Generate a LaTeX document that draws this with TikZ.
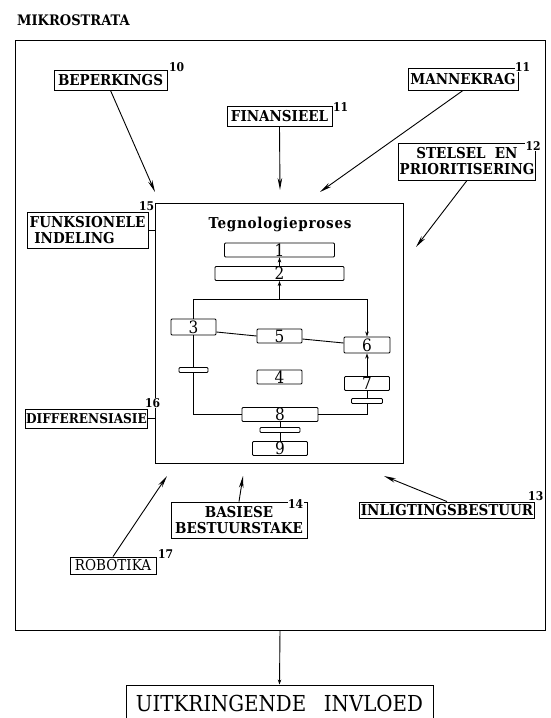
\documentclass[tikz,border=0pt]{standalone}
\usepackage{fontspec}
\setmainfont{DejaVu Serif Condensed}
\usetikzlibrary{arrows.meta,positioning,calc}

\begin{document}
\begin{tikzpicture}[x=1pt,y=-1pt,
    lyn/.style={line width=0.9pt},
    pyl/.style={line width=0.9pt,-{Stealth[length=12pt,width=4.5pt]}},
    klein/.style={line width=0.9pt,-{Stealth[length=5pt,width=3.5pt]}},
    etiket/.style={draw,line width=0.9pt,inner sep=1pt,font=\bfseries\fontsize{15}{16}\selectfont},
    stap/.style={draw,line width=0.9pt,rounded corners=1pt,inner sep=0pt,minimum height=14pt,font=\fontsize{17}{17}\selectfont},
    balk/.style={draw,line width=0.9pt,rounded corners=1pt,inner sep=0pt,minimum height=5pt},
    nommer/.style={anchor=south west,inner sep=0.5pt,fill=white,font=\bfseries\fontsize{12}{12}\selectfont}]

  \useasboundingbox (0,0) rectangle (550,718);

  \node[anchor=west,inner sep=0pt,font=\bfseries\fontsize{14.5}{15}\selectfont] (titel) at (17,20) {MIKROSTRATA};

  % raam en tegnologieproses
  \node[draw,line width=1pt,minimum width=530pt,minimum height=590pt] (raam) at (280,335) {};
  \node[draw,line width=1pt,minimum width=248pt,minimum height=260pt] (proses) at (279,333) {};
  \node[inner sep=0pt,font=\bfseries\fontsize{15}{15}\selectfont\addfontfeature{LetterSpace=5}] (ptitel) at (280,224) {Tegnologieproses};

  \node[stap,minimum width=110pt] (s1) at (279.5,250) {1};
  \node[stap,minimum width=129pt] (s2) at (279.5,273.5) {2};
  \node[stap,minimum width=45pt,minimum height=16pt] (s3) at (193.5,327) {3};
  \node[stap,minimum width=45pt] (s5) at (279.5,336) {5};
  \node[stap,minimum width=46pt,minimum height=16pt] (s6) at (367,345) {6};
  \node[stap,minimum width=45pt] (s4) at (279.5,377) {4};
  \node[stap,minimum width=45pt] (s7) at (367,383.5) {7};
  \node[stap,minimum width=76pt] (s8) at (280,414.5) {8};
  \node[stap,minimum width=55pt] (s9) at (280,448.5) {9};
  \node[balk,minimum width=29pt] (bL) at (193.5,370) {};
  \node[balk,minimum width=31pt] (bR) at (367,401) {};
  \node[balk,minimum width=40pt] (b8) at (280,430) {};
  \coordinate (split) at (279.5,299);

  \draw[klein] (split) -- (s2);
  \draw[klein] (s2) -- (s1);
  \draw[lyn] (split) -| (s3);
  \draw[klein] (split) -| (s6);
  \draw[lyn] ([yshift=-5pt]s3.east) -- (s5.west);
  \draw[lyn] ([yshift=-3pt]s5.east) -- ([yshift=2pt]s6.west);
  \draw[lyn] (s3) -- (bL);
  \draw[lyn] (bL) |- (s8);
  \draw[klein] (s7) -- (s6);
  \draw[lyn] (s7) -- (bR);
  \draw[lyn] (bR) |- (s8);
  \draw[lyn] (s8) -- (b8);
  \draw[lyn] (b8) -- (s9);

  % faktore rondom
  \node[etiket,minimum width=113pt,minimum height=20pt] (bep) at (110.5,80) {BEPERKINGS};
  \node[etiket,minimum width=105pt,minimum height=20pt] (fin) at (279.5,116) {FINANSIEEL};
  \node[etiket,minimum width=110pt,minimum height=22pt] (man) at (463,79) {MANNEKRAG};
  \node[etiket,minimum width=134pt,minimum height=37pt,align=center] (stel) at (467,161.5) {STELSEL\ \ EN\\PRIORITISERING};
  \node[etiket,minimum width=121pt,minimum height=36pt,align=left] (fun) at (87.5,230) {FUNKSIONELE\\\ INDELING};
  \node[etiket,minimum width=119pt,minimum height=19pt,font=\bfseries\fontsize{13.5}{14}\selectfont] (diff) at (86.5,418.5) {DIFFERENSIASIE};
  \node[etiket,minimum width=136pt,minimum height=36pt,align=center] (bas) at (239,520) {BASIESE\\BESTUURSTAKE};
  \node[etiket,minimum width=86pt,minimum height=17pt,font=\fontsize{15}{16}\selectfont] (rob) at (113,565.5) {ROBOTIKA};
  \node[etiket,minimum width=174pt,minimum height=16pt] (inl) at (447,510) {INLIGTINGSBESTUUR};

  \node[nommer] at ([xshift=1pt,yshift=-3pt]bep.north east) {10};
  \node[nommer] at ([yshift=-7pt]fin.north east) {11};
  \node[nommer] at ([xshift=-4pt,yshift=-5pt]man.north east) {11};
  \node[nommer] at ([xshift=-11pt,yshift=-9pt]stel.north east) {12};
  \node[nommer] at ([xshift=-7pt]inl.north east) {13};
  \node[nommer] at ([xshift=-20pt,yshift=-8pt]bas.north east) {14};
  \node[nommer] at ([xshift=-10pt]fun.north east) {15};
  \node[nommer] at ([xshift=-4pt]diff.north east) {16};
  \node[nommer] at ([xshift=1pt,yshift=-3pt]rob.north east) {17};

  \coordinate (pBep) at (155,192);
  \coordinate (pFin) at (280,190);
  \coordinate (pMan) at (320,192);
  \coordinate (pStel) at (416,247);
  \coordinate (pBas) at (243,476);
  \coordinate (pRob) at (167,476);
  \coordinate (pInl) at (384,476);
  \foreach \van/\na in {bep.south/pBep,fin.south/pFin,man.south/pMan,stel.south/pStel,
                        bas.north/pBas,rob.north/pRob,inl.north/pInl}
    \draw[pyl] (\van) -- (\na);

  \draw[lyn] (fun.east) -- (fun.east -| proses.west);
  \draw[lyn] (diff.east) -- (diff.east -| proses.west);

  % uitkringende invloed
  \node[draw,line width=1pt,minimum width=307pt,minimum height=36pt,font=\fontsize{22}{22}\selectfont] (uit) at (279.5,703) {UITKRINGENDE\hspace{0.8em}INVLOED};
  \draw[klein] (raam.south) -- (uit.north);
\end{tikzpicture}
\end{document}
